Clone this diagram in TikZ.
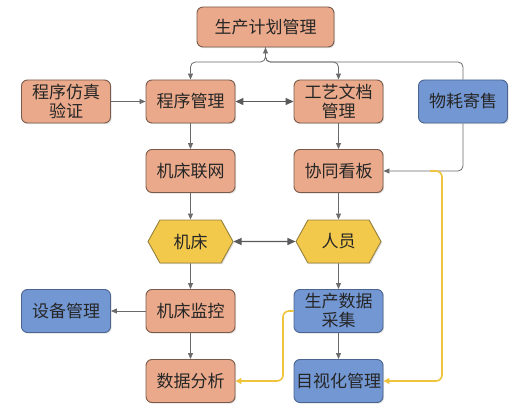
\documentclass[tikz,border=0pt]{standalone}
\usepackage{fontspec}
\setmainfont{Noto Sans CJK SC}
\usetikzlibrary{arrows.meta,shapes.symbols,shadows}
\definecolor{orfill}{HTML}{E9A98A}
\definecolor{ordraw}{HTML}{7A5A4A}
\definecolor{blfill}{HTML}{7397D3}
\definecolor{bldraw}{HTML}{4A6590}
\definecolor{yefill}{HTML}{F3C94B}
\definecolor{yedraw}{HTML}{95813E}
\definecolor{gline}{HTML}{6A6A6A}
\definecolor{yline}{HTML}{EFC43C}
\begin{document}
\begin{tikzpicture}[x=1pt,y=-1pt,
  base/.style={draw, line width=0.9pt, minimum width=89pt, minimum height=43pt,
    align=center, inner sep=1pt, font=\fontsize{17}{19}\selectfont, text=black!85,
    drop shadow={shadow xshift=1.2pt, shadow yshift=-1.2pt, opacity=0.25}},
  obox/.style={base, rectangle, rounded corners=6pt, fill=orfill, draw=ordraw},
  bbox/.style={base, rectangle, rounded corners=6pt, fill=blfill, draw=bldraw},
  hexa/.style={base, signal, signal to=east and west, signal pointer angle=122,
    minimum width=85pt, fill=yefill, draw=yedraw},
  garrow/.style={draw=gline, line width=0.8pt, -{Triangle[length=6pt,width=5pt]}},
  darrow/.style={draw=gline!85!black, line width=1.3pt, {Triangle[length=8pt,width=7pt]}-{Triangle[length=8pt,width=7pt]}},
  yarrow/.style={draw=yline, line width=1.6pt, rounded corners=6pt, -{Triangle[length=6pt,width=6pt]}}
]
\useasboundingbox (0,0) rectangle (527,414);
\node[obox, minimum width=137pt, minimum height=40pt] (top) at (265.5,27) {生产计划管理};
\node[obox] (fangzhen) at (66,101.5) {程序仿真\\验证};
\node[obox] (chengxu) at (190.5,101.5) {程序管理};
\node[obox] (gongyi) at (338.5,101.5) {工艺文档\\管理};
\node[bbox] (wuhao) at (463,101.5) {物耗寄售};
\node[obox] (lianwang) at (190.5,171) {机床联网};
\node[obox] (kanban) at (338.5,171) {协同看板};
\node[hexa] (jichuang) at (190.5,241.5) {机床};
\node[hexa] (renyuan) at (338.5,241.5) {人员};
\node[bbox] (shebei) at (66,311) {设备管理};
\node[obox] (jiankong) at (190.5,311) {机床监控};
\node[bbox] (caiji) at (338.5,311) {生产数据\\采集};
\node[obox] (fenxi) at (190.5,381) {数据分析};
\node[bbox] (mushi) at (338.5,381) {目视化管理};

\coordinate (jn) at (265.5,62);
\coordinate (ys) at (430,171);
\coordinate (yc) at (283,311);

\draw[garrow, rounded corners=5pt] (top.south) -- (jn) -| (chengxu.north);
\draw[garrow, rounded corners=5pt] (top.south) -- (jn) -| (gongyi.north);
\draw[garrow, rounded corners=5pt] (wuhao.north) |- (jn) -- (top.south);
\draw[garrow, rounded corners=5pt] (wuhao.south) |- (kanban.east);
\draw[garrow] (fangzhen) -- (chengxu);
\draw[darrow] (chengxu) -- (gongyi);
\draw[garrow] (chengxu) -- (lianwang);
\draw[garrow] (gongyi) -- (kanban);
\draw[garrow] (lianwang) -- (jichuang);
\draw[garrow] (kanban) -- (renyuan);
\draw[darrow] (jichuang) -- (renyuan);
\draw[garrow] (jichuang) -- (jiankong);
\draw[garrow] (renyuan) -- (caiji);
\draw[garrow] (jiankong) -- (shebei);
\draw[garrow] (jiankong) -- (fenxi);
\draw[garrow] (caiji) -- (mushi);
\draw[yarrow] (ys) -- (442,171) |- (mushi.east);
\draw[yarrow] (caiji.west) -- (yc) |- (fenxi.east);
\end{tikzpicture}
\end{document}
